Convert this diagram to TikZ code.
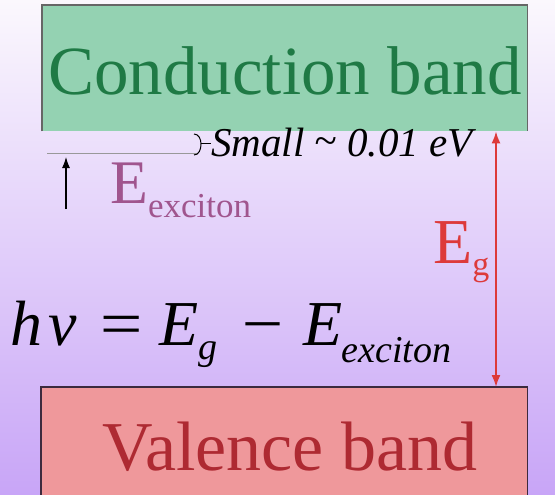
\documentclass[tikz,border=0pt]{standalone}
\usepackage{fontspec}
\setmainfont{Liberation Serif}
\usepackage{xcolor}
\usetikzlibrary{arrows.meta,positioning,calc}
\definecolor{cbg}{HTML}{FBF8FD}
\definecolor{cbgdeep}{HTML}{C8A5F7}
\definecolor{ccond}{HTML}{94D2B2}
\definecolor{ccondtext}{HTML}{1F7A45}
\definecolor{cval}{HTML}{EF989B}
\definecolor{cvaltext}{HTML}{AE2A32}
\definecolor{cedge}{HTML}{3C2A3E}
\definecolor{cexc}{HTML}{A0558E}
\definecolor{cgap}{HTML}{DD3A3A}

\begin{document}
\begin{tikzpicture}[
    x=1pt, y=-1pt,
    band/.style={inner sep=0pt, anchor=north west},
    bandtxt/.style={anchor=base, inner sep=0pt, font=\fontsize{69}{69}\selectfont},
    elabel/.style={anchor=base west, inner sep=0pt},
    eqn/.style={anchor=base west, inner sep=0pt, font=\fontsize{64}{64}\selectfont\itshape},
    note/.style={anchor=base west, inner sep=0pt, font=\fontsize{41}{41}\selectfont\itshape},
    gaparr/.style={{Latex[length=12pt,width=9pt]}-{Latex[length=12pt,width=9pt]}, line width=1.8pt, draw=cgap},
    excarr/.style={-{Latex[length=11pt,width=8pt]}, line width=1.1pt, draw=black},
    edge/.style={line width=1.6pt, draw=cedge}
]
\useasboundingbox (0,0) rectangle (555,495);
\shade[top color=cbg, bottom color=cbgdeep] (0,0) rectangle (555,495);

\node[band, fill=ccond, minimum width=485pt, minimum height=126pt] (cb) at (42,5) {};
\node[band, fill=cval, minimum width=486pt, minimum height=110pt] (vb) at (41,387) {};
\draw[edge, draw=black!60] (cb.south west) -- (cb.north west) -- (cb.north east) -- (cb.south east);
\draw[edge] (vb.south west) -- (vb.north west) -- (vb.north east) -- (vb.south east);

\node[bandtxt, text=ccondtext] (cbtext) at (285,95) {Conduction band};
\node[bandtxt, text=cvaltext, font=\fontsize{70}{70}\selectfont] (vbtext) at (290,470) {Valence band};

\coordinate (lvlw) at (47,153);
\coordinate (lvle) at (197,153);
\draw[draw=black!40, line width=0.8pt] (lvlw) -- (lvle);

\coordinate (brt) at (194,134);
\coordinate (brb) at (194,155);
\node[note] (small) at (211,157) {Small \raisebox{2pt}{\char`\~} 0.01 eV};
\draw[line width=1pt] (brt) to[out=0,in=90] (201,144) to[out=-90,in=0] (brb);
\draw[line width=1pt] (201,144) -- (small.west |- 0,144);

\coordinate (excbot) at (66,209);
\draw[excarr] (excbot) -- (excbot |- 0,157);
\node[elabel, text=cexc, font=\fontsize{62}{62}\selectfont] (eexc) at (110,203)
  {E\raisebox{-14pt}{\fontsize{35}{35}\selectfont exciton}};

\coordinate (gapx) at (496,0);
\draw[gaparr] (cb.south -| gapx) -- (vb.north -| gapx);
\node[elabel, text=cgap, font=\fontsize{64}{64}\selectfont] (eg) at (433,263)
  {E\raisebox{-12pt}{\fontsize{34}{34}\selectfont g}};

\node[eqn] (hnu) at (10,345)
  {h\kern6pt ν\kern19pt\scalebox{1.18}[1]{=}\kern13pt E\kern0pt\raisebox{-14pt}{\fontsize{38}{38}\selectfont g}\kern20pt\scalebox{1.15}[1]{−}\kern16pt E\kern-1pt\raisebox{-17pt}{\fontsize{38}{38}\selectfont exciton}};
\end{tikzpicture}
\end{document}
